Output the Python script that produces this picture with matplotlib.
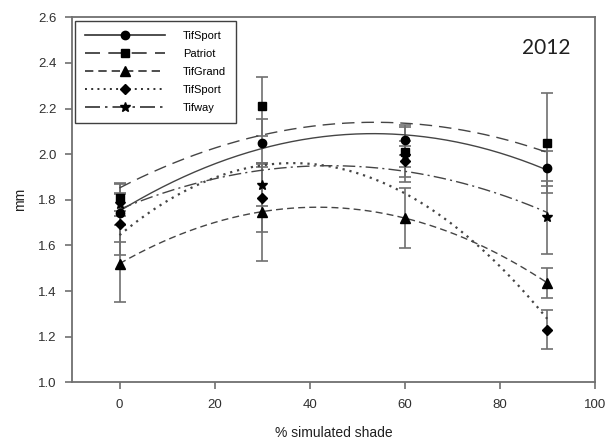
import numpy as np
import matplotlib.pyplot as plt

# % simulated shade
shade = [0, 30, 60, 90]

# means (mm), one list per cultivar
tifsport_c = [1.743, 2.048, 2.062, 1.938]
patriot = [1.81, 2.21, 2.01, 2.05]
tifgrand = [1.52, 1.748, 1.72, 1.436]
tifsport_d = [1.692, 1.81, 1.97, 1.231]
tifway = [1.78, 1.865, 1.99, 1.723]

# standard errors
err_tifsport_c = [0.13, 0.105, 0.066, 0.076]
err_patriot = [0.06, 0.13, 0.11, 0.22]
err_tifgrand = [0.17, 0.215, 0.13, 0.065]
err_tifsport_d = [0.135, 0.15, 0.09, 0.084]
err_tifway = [0.05, 0.09, 0.045, 0.16]

labels = ['TifSport', 'Patriot', 'TifGrand', 'TifSport', 'Tifway']

plt.rcParams['font.family'] = ['Liberation Sans', 'DejaVu Sans']

fig = plt.figure(figsize=(6.1, 4.46), dpi=100)
ax = fig.add_axes([0.118, 0.143, 0.857, 0.818])

series = [
    (tifsport_c, err_tifsport_c, 'o', '-', 6),
    (patriot, err_patriot, 's', (0, (9, 5)), 6),
    (tifgrand, err_tifgrand, '^', (0, (5, 3)), 6.5),
    (tifsport_d, err_tifsport_d, 'D', (0, (1, 2.2)), 5.5),
    (tifway, err_tifway, '*', (0, (9, 3, 1.5, 3)), 7),
]

xs = np.array(shade)
xfit = np.linspace(0, 90, 200)
handles = []
for (vals, err, mk, ls, ms), lab in zip(series, labels):
    ax.errorbar(xs, vals, yerr=err, fmt='none', ecolor='#707070',
                elinewidth=1.2, capsize=4.5, capthick=1.2, zorder=2)
    # quadratic regression curve through the means
    coef = np.polyfit(xs, vals, 2)
    lw = 1.6 if ls == (0, (1, 2.2)) else 1.0
    ax.plot(xfit, np.polyval(coef, xfit), color='#454545', lw=lw, ls=ls,
            zorder=3)
    ax.plot(xs, vals, ls='none', marker=mk, color='black', ms=ms, zorder=4)
    h, = ax.plot([], [], color='#303030', lw=1.2 if lw == 1.0 else 1.4,
                 ls=ls, marker=mk, mfc='black', mec='black', ms=ms)
    handles.append(h)

ax.set_xlim(-10, 100)
ax.set_ylim(1.0, 2.6)
ax.set_xticks([0, 20, 40, 60, 80, 100])
ax.set_yticks(np.arange(1.0, 2.61, 0.2))
ax.yaxis.set_major_formatter(plt.FormatStrFormatter('%.1f'))

for s in ax.spines.values():
    s.set_color('#707070')
    s.set_linewidth(1.3)
ax.tick_params(axis='both', direction='out', length=5, width=1.2,
               color='#707070', labelsize=9.5, labelcolor='#303030', pad=7)
ax.tick_params(axis='y', pad=6)
ax.tick_params(top=False, right=False)

ax.set_xlabel('% simulated shade', fontsize=10, color='#202020', labelpad=11)
ax.set_ylabel('mm', fontsize=10, color='#202020', labelpad=8)

leg = ax.legend(handles, labels, loc='upper left', numpoints=1,
                handlelength=7.2, fontsize=8, labelspacing=0.72,
                borderaxespad=0.3, handletextpad=1.6, borderpad=0.9,
                fancybox=False, framealpha=1)
leg.get_frame().set_edgecolor('#404040')
leg.get_frame().set_linewidth(1.0)

ax.text(0.953, 0.915, '2012', transform=ax.transAxes, ha='right',
        va='center', fontsize=15, family=['Lato', 'DejaVu Sans'],
        color='#202020')

fig.savefig('out.png', dpi=100)
